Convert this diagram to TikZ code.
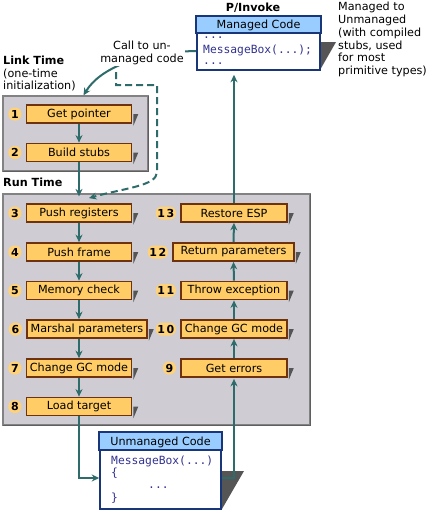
\documentclass[tikz,border=0pt]{standalone}
\usepackage{fontspec}
\setmainfont{DejaVu Sans}
\newfontfamily\codefont{DejaVu Sans Mono}
\usetikzlibrary{arrows.meta,calc}
\definecolor{teal2}{RGB}{46,107,107}
\definecolor{stepfill}{RGB}{255,204,102}
\definecolor{numfill}{RGB}{255,210,120}
\definecolor{boxbrown}{RGB}{110,50,15}
\definecolor{panelfill}{RGB}{207,205,211}
\definecolor{panelborder}{RGB}{130,130,130}
\definecolor{panelshade}{RGB}{95,95,95}
\definecolor{codeborder}{RGB}{25,55,120}
\definecolor{headblue}{RGB}{153,204,255}
\definecolor{codeblue}{RGB}{50,50,145}
\definecolor{shadowgray}{RGB}{85,85,85}
\begin{document}
\begin{tikzpicture}[x=1pt,y=-1pt,
  font=\fontsize{11.2}{12.8}\selectfont,
  stepbox/.style={draw=boxbrown, line width=1.8pt, fill=stepfill, minimum height=18pt, inner sep=0pt},
  numlbl/.style={fill=numfill, rounded corners=6pt, minimum height=13pt, minimum width=13pt, inner sep=1.5pt, anchor=east, font=\fontsize{11}{12}\selectfont\bfseries},
  flow/.style={draw=teal2, line width=2pt, -{Stealth[length=7.5pt,width=7pt]}},
  panel/.style={draw=panelborder, line width=1.2pt, fill=panelfill, inner sep=0pt},
  codebox/.style={draw=codeborder, line width=1.6pt, fill=white, inner sep=0pt},
  codetxt/.style={font=\codefont\fontsize{11.3}{12}\selectfont, text=codeblue, inner sep=0pt, anchor=west, text height=8pt, text depth=2pt},
  lbl/.style={inner sep=0pt, anchor=north west, align=left},
  shade/.style={fill=shadowgray},
]
\useasboundingbox (0,0) rectangle (434,512);

% ---------- panels ----------
\node[panel, minimum width=145pt, minimum height=75pt] (lt) at (75.5,133.5) {};
\draw[panelshade, line width=1.3pt] ($(lt.north east)+(0,1)$) -- (lt.south east) -- ($(lt.south west)+(1,0)$);
\node[panel, minimum width=307pt, minimum height=231pt] (rt) at (156.5,309.5) {};
\draw[panelshade, line width=1.3pt] ($(rt.north east)+(0,1)$) -- (rt.south east) -- ($(rt.south west)+(1,0)$);

% ---------- labels ----------
\node[font=\fontsize{11.2}{12}\selectfont\bfseries] (pinv) at (253,8) {P/Invoke};
\node[lbl] (mtou) at (338,2) {Managed to\\Unmanaged\\(with compiled\\stubs, used\\for most\\primitive types)};
\node[lbl, font=\fontsize{11.2}{12.5}\selectfont] (ltlbl) at (3,56) {\textbf{Link Time}\\(one-time\\initialization)};
\node[lbl, font=\fontsize{11.2}{12}\selectfont\bfseries] (rtlbl) at (3,178) {Run Time};

% ---------- managed code box ----------
\fill[shade] (320,42) -- (336,42) -- (320,70) -- cycle;
\node[codebox, minimum width=123pt, minimum height=53pt] (mc) at (258.5,43.5) {};
\draw[codeborder, line width=1.6pt, fill=headblue] (mc.north west) rectangle ($(mc.north east)+(0,17)$);
\node (mchead) at (258.5,25.5) {Managed Code};
\node[codetxt] (mc1) at (203,35) {...};
\node[codetxt] (mc2) at (203,50) {MessageBox(...);};
\node[codetxt] (mc3) at (203,61) {...};

% ---------- unmanaged code box ----------
\fill[shade] (221,471) -- (244,471) -- (222,509) -- cycle;
\node[codebox, minimum width=121pt, minimum height=76pt] (um) at (160.5,471) {};
\draw[codeborder, line width=1.6pt, fill=headblue] (um.north west) rectangle ($(um.north east)+(0,18)$);
\node (umhead) at (160.5,442) {Unmanaged Code};
\node[codetxt] (um1) at (111,461) {MessageBox(...)};
\node[codetxt] (um2) at (111,473) {\{};
\node[codetxt] (um3) at (148,485) {...};
\node[codetxt] (um4) at (111,498) {\}};

% ---------- step boxes ----------
\node[stepbox, minimum width=105pt] (b1) at (79,114) {Get pointer};
\node[stepbox, minimum width=105pt] (b2) at (79,152.5) {Build stubs};
\node[stepbox, minimum width=105pt] (b3) at (79,213) {Push registers};
\node[stepbox, minimum width=105pt] (b4) at (79,252) {Push frame};
\node[stepbox, minimum width=105pt] (b5) at (79,290.5) {Memory check};
\node[stepbox, minimum width=120pt] (b6) at (87,329) {Marshal parameters};
\node[stepbox, minimum width=105pt] (b7) at (79,368) {Change GC mode};
\node[stepbox, minimum width=105pt] (b8) at (79,406.5) {Load target};
\node[stepbox, minimum width=106pt] (b9) at (234,368) {Get errors};
\node[stepbox, minimum width=106pt] (b10) at (234,329) {Change GC mode};
\node[stepbox, minimum width=106pt] (b11) at (234,290.5) {Throw exception};
\node[stepbox, minimum width=121pt] (b12) at (233.5,252) {Return parameters};
\node[stepbox, minimum width=106pt] (b13) at (234,213) {Restore ESP};

\foreach \b in {b1,b2,b3,b4,b5,b6,b7,b8,b9,b10,b11,b12,b13}{
  \fill[shade] ($(\b.east)+(0.9,0)$) -- ++(5,0) -- ($(\b.south east)+(0.9,2)$) -- cycle;
}

% ---------- numbers ----------
\node[numlbl] (n1) at ($(b1.west)+(-4,0)$) {1};
\node[numlbl] (n2) at ($(b2.west)+(-4,0)$) {2};
\node[numlbl] (n3) at ($(b3.west)+(-4,0)$) {3};
\node[numlbl] (n4) at ($(b4.west)+(-4,0)$) {4};
\node[numlbl] (n5) at ($(b5.west)+(-4,0)$) {5};
\node[numlbl] (n6) at ($(b6.west)+(-4,0)$) {6};
\node[numlbl] (n7) at ($(b7.west)+(-4,0)$) {7};
\node[numlbl] (n8) at ($(b8.west)+(-4,0)$) {8};
\node[numlbl] (n9) at ($(b9.west)+(-4,0)$) {9};
\node[numlbl] (n10) at ($(b10.west)+(-4,0)$) {1\,0};
\node[numlbl] (n11) at ($(b11.west)+(-4,0)$) {1\,1};
\node[numlbl] (n12) at ($(b12.west)+(-4,0)$) {1\,2};
\node[numlbl] (n13) at ($(b13.west)+(-4,0)$) {1\,3};

% ---------- connectors ----------
\draw[flow] (b1.south) -- (b2.north);
\draw[flow] (b2.south) -- ($(b2.south |- rt.north)+(0,3)$);
\draw[flow] (b3.south) -- (b4.north);
\draw[flow] (b4.south) -- (b5.north);
\draw[flow] (b5.south) -- (b5.south |- b6.north);
\draw[flow] (b7.north |- b6.south) -- (b7.north);
\draw[flow] (b7.south) -- (b8.north);
\draw[flow] (b8.south) |- ($(um.west)+(0,7)$);
\draw[flow, shorten >=1pt] ($(um.east)+(0,7)$) -| (b9.south);
\draw[flow] (b9.north) -- (b10.south);
\draw[flow] (b10.north) -- (b11.south);
\draw[flow] (b11.north) -- (b12.south);
\draw[flow] (b12.north) -- (b13.south);
\draw[flow, shorten >=4pt] (b13.north) -- (b13.north |- mc.south);

\draw[flow] ($(mc.west)+(0,7.5)$) .. controls (140,52) and (100,68) .. ($(lt.north)+(8,0)$);
\coordinate (dstart) at (116,72);
\draw[flow, dash pattern=on 7pt off 4pt] (dstart) |- (157,85) -- (157,172) .. controls +(0,14) and +(35,-10) .. ($(b3.north)+(10,-5)$);
\node[fill=white, inner sep=1pt, align=center] (call) at (142,53) {Call to un-\\managed code};
\end{tikzpicture}
\end{document}
